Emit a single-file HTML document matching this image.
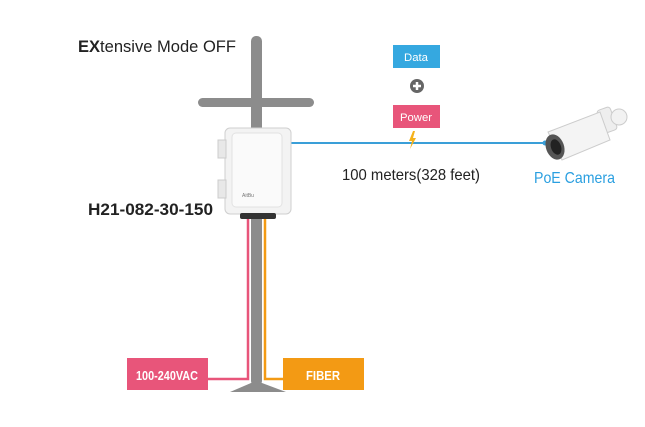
<!DOCTYPE html>
<html><head><style>body{margin:0;background:#fff}svg{display:block}text{font-family:"Liberation Sans",sans-serif}</style></head>
<body>
<svg width="645" height="427" viewBox="0 0 645 427" xmlns="http://www.w3.org/2000/svg">
<rect width="645" height="427" fill="#fff"/>
<text x="78" y="52" font-size="17" fill="#222" textLength="158" lengthAdjust="spacingAndGlyphs"><tspan font-weight="bold">EX</tspan>tensive Mode OFF</text>
<!-- pole -->
<rect x="251" y="36" width="11" height="350" rx="5" fill="#8c8c8c"/>
<rect x="198" y="98" width="116" height="9" rx="4.5" fill="#8c8c8c"/>
<polygon points="230,392 286,392 262,383 251,383" fill="#8c8c8c"/>
<!-- cables -->
<polyline points="248,218 248,379 208,379" fill="none" stroke="#e8557a" stroke-width="2.5"/>
<polyline points="265,218 265,379 284,379" fill="none" stroke="#f39a14" stroke-width="2.5"/>
<line x1="288" y1="143" x2="545" y2="143" stroke="#3a9fd8" stroke-width="2"/>
<circle cx="545" cy="143" r="2.5" fill="#3a9fd8"/>
<!-- box -->
<rect x="225" y="128" width="66" height="86" rx="5" fill="#f3f3f3" stroke="#cfcfcf"/>
<rect x="232" y="133" width="50" height="74" rx="4" fill="#fafafa" stroke="#e2e2e2"/>
<rect x="218" y="140" width="8" height="18" fill="#e8e8e8" stroke="#ccc"/>
<rect x="218" y="180" width="8" height="18" fill="#e8e8e8" stroke="#ccc"/>
<rect x="240" y="213" width="36" height="6" rx="2" fill="#333"/>
<text x="242" y="197" font-size="5" fill="#777">AitBu</text>
<text x="88" y="215" font-size="17" font-weight="bold" fill="#222" textLength="125" lengthAdjust="spacingAndGlyphs">H21-082-30-150</text>
<!-- labels -->
<rect x="127" y="358" width="81" height="32" fill="#e8557a"/>
<text x="167" y="380" font-size="13" font-weight="bold" fill="#fff" text-anchor="middle" textLength="62" lengthAdjust="spacingAndGlyphs">100-240VAC</text>
<rect x="283" y="358" width="81" height="32" fill="#f39a14"/>
<text x="323" y="380" font-size="13" font-weight="bold" fill="#fff" text-anchor="middle" textLength="34" lengthAdjust="spacingAndGlyphs">FIBER</text>
<rect x="393" y="45" width="47" height="23" fill="#35a8e0"/>
<text x="416" y="61" font-size="11" fill="#fff" text-anchor="middle" textLength="24" lengthAdjust="spacingAndGlyphs">Data</text>
<circle cx="417" cy="86" r="7" fill="#666"/>
<path d="M417 82v8M413 86h8" stroke="#fff" stroke-width="2.5"/>
<rect x="393" y="105" width="47" height="23" fill="#e8557a"/>
<text x="416" y="121" font-size="11" fill="#fff" text-anchor="middle" textLength="32" lengthAdjust="spacingAndGlyphs">Power</text>
<polygon points="413,131 409,141 412,141 410,149 416,138 413,138 415,131" fill="#f5b21b"/>
<text x="342" y="180" font-size="16" fill="#222" textLength="138" lengthAdjust="spacingAndGlyphs">100 meters(328 feet)</text>
<text x="534" y="183" font-size="16" fill="#2a9fe0" textLength="81" lengthAdjust="spacingAndGlyphs">PoE Camera</text>
<!-- camera -->
<g>
<rect x="600" y="108" width="14" height="24" rx="3" fill="#eee" stroke="#ccc" transform="rotate(-20 607 120)"/>
<circle cx="619" cy="117" r="8" fill="#f2f2f2" stroke="#ccc"/>
<polygon points="548,132 600,112 610,140 562,160" fill="#f4f4f4" stroke="#ccc"/>
<ellipse cx="555" cy="147" rx="9" ry="13" fill="#555" transform="rotate(-20 555 147)"/>
<ellipse cx="556" cy="147" rx="5" ry="8" fill="#222" transform="rotate(-20 556 147)"/>
</g>
</svg>
</body></html>
